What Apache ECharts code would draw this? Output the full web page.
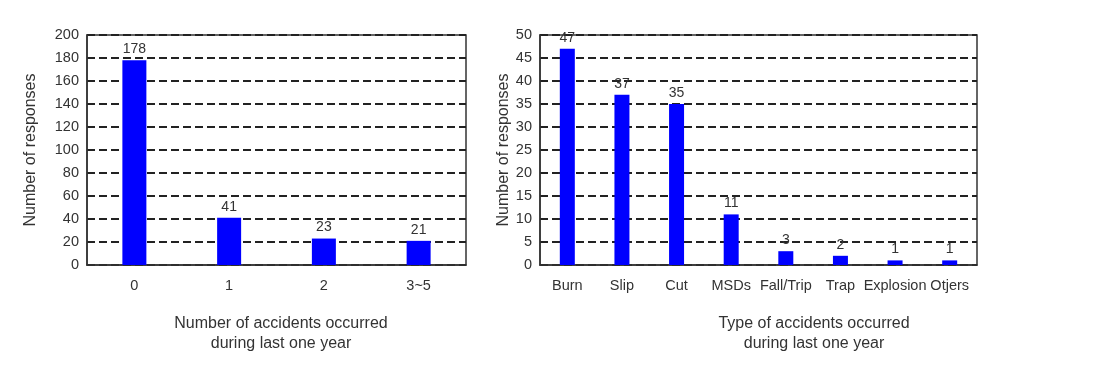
<!DOCTYPE html>
<html><head><meta charset="utf-8">
<script src="https://cdn.jsdelivr.net/npm/echarts@6/dist/echarts.min.js"></script>
<style>html,body{margin:0;padding:0;background:#fff}#c{width:1114px;height:367px}</style>
</head><body><div id="c"></div>
<script>
const countCategories = ['0', '1', '2', '3~5'];
const countValues = [178, 41, 23, 21];
const typeCategories = ['Burn', 'Slip', 'Cut', 'MSDs', 'Fall/Trip', 'Trap', 'Explosion', 'Otjers'];
const typeValues = [47, 37, 35, 11, 3, 2, 1, 1];
const yName = 'Number of responses';
const leftXName = 'Number of accidents occurred\nduring last one year';
const rightXName = 'Type of accidents occurred\nduring last one year';

const FONT = 'Liberation Sans, Arial, sans-serif';
const TXT = '#333';
const chart = echarts.init(document.getElementById('c'), null, {renderer: 'canvas'});

function xAxisCfg(idx, cats) {
  return {
    type: 'category', gridIndex: idx, data: cats,
    axisLine: {lineStyle: {color: TXT, width: 1.5}},
    axisTick: {show: false},
    axisLabel: {color: TXT, fontSize: 14.5, fontFamily: FONT, margin: 13, interval: 0},
    splitLine: {show: false}
  };
}
function yAxisCfg(idx, max, interval, gap) {
  return {
    type: 'value', gridIndex: idx, min: 0, max: max, interval: interval,
    name: yName, nameLocation: 'middle', nameGap: gap,
    nameTextStyle: {color: TXT, fontSize: 16, fontFamily: FONT},
    axisLine: {show: true, lineStyle: {color: TXT, width: 1.5}},
    axisTick: {show: false},
    axisLabel: {color: TXT, fontSize: 14.5, fontFamily: FONT, margin: 8},
    splitLine: {show: true, lineStyle: {color: '#222', width: 1.8, type: [8, 4]}}
  };
}
function barCfg(idx, data, width) {
  return {
    type: 'bar', xAxisIndex: idx, yAxisIndex: idx, data: data, barWidth: width,
    itemStyle: {color: '#0000ff'},
    label: {show: true, position: 'top', distance: 4, color: TXT, fontSize: 14, fontFamily: FONT},
    z: 3
  };
}

chart.setOption({
  animation: false,
  backgroundColor: '#fff',
  title: [
    {text: leftXName, left: 276, top: 309, textAlign: 'center',
     textStyle: {color: TXT, fontSize: 16, fontWeight: 'normal', fontFamily: FONT, lineHeight: 20}},
    {text: rightXName, left: 809, top: 309, textAlign: 'center',
     textStyle: {color: TXT, fontSize: 16, fontWeight: 'normal', fontFamily: FONT, lineHeight: 20}}
  ],
  grid: [
    {left: 87, top: 35, width: 379, height: 230, show: true, borderColor: TXT, borderWidth: 1.5, backgroundColor: 'transparent'},
    {left: 540, top: 35, width: 437, height: 230, show: true, borderColor: TXT, borderWidth: 1.5, backgroundColor: 'transparent'}
  ],
  xAxis: [xAxisCfg(0, countCategories), xAxisCfg(1, typeCategories)],
  yAxis: [yAxisCfg(0, 200, 20, 48), yAxisCfg(1, 50, 5, 24)],
  series: [barCfg(0, countValues, 24), barCfg(1, typeValues, 15)]
});
</script></body></html>
